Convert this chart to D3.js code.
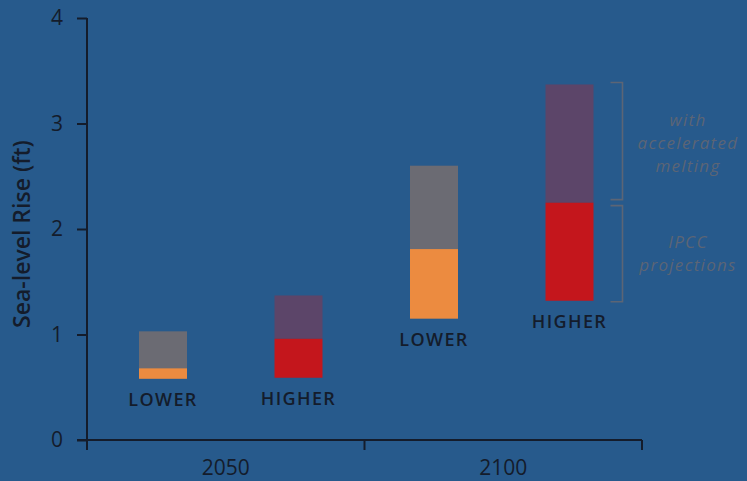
<!DOCTYPE html>
<html>
<head>
<meta charset="utf-8">
<script src="https://cdn.jsdelivr.net/npm/d3@7"></script>
<style>
  html, body { margin: 0; padding: 0; background: #275a8c; }
  svg { display: block; }
</style>
</head>
<body>
<svg id="chart" width="747" height="481"></svg>
<script>
// ---- data ----
const periods = ["2050", "2050", "2100", "2100"];
const scenarios = ["LOWER", "HIGHER", "LOWER", "HIGHER"];
const ipccLow = [0.58, 0.59, 1.15, 1.32];
const ipccHigh = [0.68, 0.96, 1.81, 2.25];
const acceleratedHigh = [1.03, 1.37, 2.60, 3.37];
const groups = ["2050", "2100"];
const yTicks = [0, 1, 2, 3, 4];
const yLabel = "Sea-level Rise (ft)";
const upperNote = ["with", "accelerated", "melting"];
const lowerNote = ["IPCC", "projections"];

// ---- styling ----
const bg = "#275a8c";
const axisColor = "#141c2b";
const ipccColors = { LOWER: "#ec8b40", HIGHER: "#c4161c" };
const accelColors = { LOWER: "#6b6b73", HIGHER: "#5c4569" };
const noteColor = "#5c6575";
const font = "'Open Sans', 'DejaVu Sans', sans-serif";

const svg = d3.select("#chart");
svg.append("rect").attr("width", 747).attr("height", 481).attr("fill", bg);

const keys = periods.map((p, i) => p + "-" + scenarios[i]);
const rows = keys.map((k, i) => ({
  key: k, period: periods[i], scenario: scenarios[i],
  low: ipccLow[i], mid: ipccHigh[i], high: acceleratedHigh[i]
}));

const y = d3.scaleLinear().domain([0, 4]).range([440, 18]);
const x = d3.scaleBand().domain(keys).range([95.25, 637.25])
  .paddingInner(0.6458).paddingOuter(0.3229);
const xg = d3.scaleBand().domain(groups).range([87, 642]).padding(0);

// y axis
const yAxis = svg.append("g").attr("transform", "translate(87,0)")
  .call(d3.axisLeft(y).tickValues(yTicks).tickFormat(d3.format("d")).tickSize(10).tickPadding(14));
yAxis.select(".domain").remove();
yAxis.selectAll(".tick line").attr("stroke", axisColor).attr("stroke-width", 2);
yAxis.selectAll(".tick text").attr("fill", axisColor)
  .style("font-family", font).style("font-size", "21px");
svg.append("line").attr("x1", 87).attr("x2", 87).attr("y1", y(4)).attr("y2", 450)
  .attr("stroke", axisColor).attr("stroke-width", 2);

// x axis (group axis, boundary ticks)
svg.append("line").attr("x1", 77).attr("x2", 642).attr("y1", y(0)).attr("y2", y(0))
  .attr("stroke", axisColor).attr("stroke-width", 2);
const bounds = [xg.range()[0], ...groups.slice(1).map(g => xg(g)), xg.range()[1]];
svg.selectAll(".gtick").data(bounds).join("line")
  .attr("x1", d => d).attr("x2", d => d)
  .attr("y1", y(0)).attr("y2", y(0) + 10)
  .attr("stroke", axisColor).attr("stroke-width", 2);
svg.selectAll(".glabel").data(groups).join("text")
  .attr("x", d => xg(d) + xg.bandwidth() / 2)
  .attr("y", 475)
  .attr("text-anchor", "middle")
  .attr("fill", axisColor)
  .style("font-family", font).style("font-size", "21px")
  .text(d => d);

// y label
svg.append("text")
  .attr("transform", `translate(30,${234}) rotate(-90)`)
  .attr("text-anchor", "middle")
  .attr("fill", axisColor)
  .style("font-family", font).style("font-size", "23px").style("font-weight", 600)
  .text(yLabel);

// bars
const bars = svg.append("g");
bars.selectAll(".acc").data(rows).join("rect")
  .attr("x", d => x(d.key)).attr("width", x.bandwidth())
  .attr("y", d => y(d.high)).attr("height", d => y(d.mid) - y(d.high))
  .attr("fill", d => accelColors[d.scenario]);
bars.selectAll(".ipcc").data(rows).join("rect")
  .attr("x", d => x(d.key)).attr("width", x.bandwidth())
  .attr("y", d => y(d.mid)).attr("height", d => y(d.low) - y(d.mid))
  .attr("fill", d => ipccColors[d.scenario]);

// scenario labels
svg.selectAll(".slabel").data(rows).join("text")
  .attr("x", d => x(d.key) + x.bandwidth() / 2)
  .attr("y", d => y(d.low) + 27)
  .attr("text-anchor", "middle")
  .attr("fill", axisColor)
  .style("font-family", font).style("font-size", "18px").style("font-weight", 600)
  .style("letter-spacing", "1.4px")
  .text(d => d.scenario);

// brackets on last bar
const last = rows[rows.length - 1];
const bx = x(last.key) + x.bandwidth() + 29;
const bw = 12;
function bracket(y1, y2) {
  svg.append("path")
    .attr("d", `M${bx - bw},${y1}H${bx}V${y2}H${bx - bw}`)
    .attr("fill", "none").attr("stroke", noteColor).attr("stroke-width", 1.6);
}
bracket(y(last.high) - 2, y(last.mid) - 3);
bracket(y(last.mid) + 3, y(last.low) + 1);

function note(lines, yMid) {
  const lh = 23;
  lines.forEach((l, i) => {
    svg.append("text")
      .attr("x", 688)
      .attr("y", yMid + (i - (lines.length - 1) / 2) * lh + 6)
      .attr("text-anchor", "middle").attr("fill", noteColor)
      .style("font-family", font).style("font-size", "17px").style("font-style", "italic")
      .style("letter-spacing", "1.3px")
      .text(l);
  });
}
note(upperNote, (y(last.high) + y(last.mid)) / 2 - 1);
note(lowerNote, (y(last.mid) + y(last.low)) / 2 + 2);
</script>
</body>
</html>
